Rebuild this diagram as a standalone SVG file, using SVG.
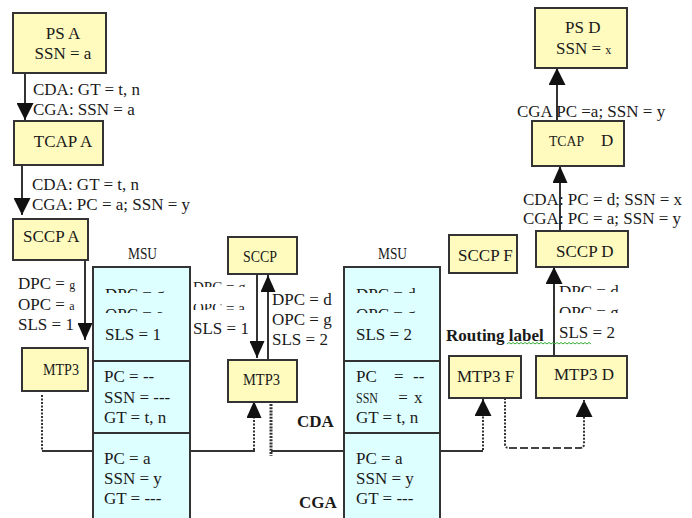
<svg xmlns="http://www.w3.org/2000/svg" width="692" height="518" viewBox="0 0 692 518">
<style>
.box{fill:#FFFBBF;stroke:#333;stroke-width:2}
.msu{fill:#DDFFFF;stroke:#333;stroke-width:2}
.t{font-family:'Liberation Serif','Times New Roman','DejaVu Serif',serif;font-size:17px;fill:#1a1a1a}
.s{font-size:12px}
.b{font-weight:bold}
.m{text-anchor:middle}
.ln{stroke:#333;stroke-width:2;fill:none}
.dot{stroke:#333;stroke-width:2;stroke-dasharray:2 1.5;fill:none}
.dot2{stroke:#333;stroke-width:3;stroke-dasharray:2 1.2;fill:none}
.dash{stroke:#444;stroke-width:2;stroke-dasharray:8 3;fill:none}
</style>
<defs>
<marker id="ah" viewBox="0 0 17 17" refX="17" refY="8.5" markerWidth="17" markerHeight="17" markerUnits="userSpaceOnUse" orient="auto"><path d="M0,0 L17,8.5 L0,17 z" fill="#111"/></marker>
<marker id="ahs" viewBox="0 0 17 15" refX="17" refY="7.5" markerWidth="17" markerHeight="15" markerUnits="userSpaceOnUse" orient="auto"><path d="M0,0 L17,7.5 L0,15 z" fill="#111"/></marker>
<clipPath id="cut">
<rect x="100" y="285" width="85" height="8"/>
<rect x="100" y="305" width="85" height="8"/>
<rect x="350" y="285" width="85" height="8"/>
<rect x="350" y="305" width="85" height="8"/>
<rect x="555" y="284" width="80" height="8"/>
<rect x="555" y="305" width="80" height="8"/>
<rect x="190" y="280" width="66" height="7"/>
<rect x="190" y="304" width="66" height="6"/>
</clipPath>
</defs>

<g id="connectors">
<path class="ln" d="M25,73 L25,120" marker-end="url(#ah)"/>
<path class="ln" d="M22,165 L22,215" marker-end="url(#ah)"/>
<path class="ln" d="M85,260 L85,340" marker-end="url(#ahs)"/>
<path class="ln" d="M257,274 L257,358" marker-end="url(#ahs)"/>
<path class="ln" d="M268,360 L268,275" marker-end="url(#ahs)"/>
<path class="dot" d="M42,395 L42,450"/>
<path class="ln" d="M42,451 L255,451"/>
<path class="dot" d="M254,450 L254,401" marker-end="url(#ahs)"/>
<path class="dot2" d="M271,404 L271,456"/>
<path class="ln" d="M271,451 L483,451"/>
<path class="dot" d="M483,450 L483,399" marker-end="url(#ah)"/>
<path class="dot" d="M505,398 L505,444 Q505,448 509,448"/>
<path class="dash" d="M509,448 L580,448"/>
<path class="dot" d="M580,448 Q584,448 584,444 L584,400" marker-end="url(#ah)"/>
<path class="ln" d="M554,356 L554,267" marker-end="url(#ah)"/>
<path class="ln" d="M560,231 L560,166" marker-end="url(#ahs)"/>
<path class="ln" d="M557,121 L557,68" marker-end="url(#ah)"/>
</g>

<g id="labels" class="t">
<text x="33" y="95">CDA: GT = t, n</text>
<text x="33" y="115">CGA: SSN = a</text>
<text x="32" y="190">CDA: GT = t, n</text>
<text x="32" y="210">CGA: PC = a; SSN = y</text>
<text x="18" y="289">DPC = <tspan class="s">g</tspan></text>
<text x="18" y="310">OPC = <tspan class="s">a</tspan></text>
<text x="18" y="330">SLS = 1</text>
<text x="193" y="292" font-size="15" clip-path="url(#cut)">DPC = g</text>
<text x="193" y="313" font-size="15" clip-path="url(#cut)">OPC = a</text>
<text x="193" y="334">SLS = 1</text>
<text x="272" y="305">DPC = d</text>
<text x="272" y="325">OPC = g</text>
<text x="272" y="345">SLS = 2</text>
<text x="297" y="427" class="b">CDA</text>
<text x="299" y="508" class="b">CGA</text>
<text x="446" y="341" class="b">Routing label</text>
<path d="M507,344 l2,-1.5 l2,1.5 l2,-1.5 l2,1.5 l2,-1.5 l2,1.5 l2,-1.5 l2,1.5 l2,-1.5 l2,1.5 l2,-1.5 l2,1.5 l2,-1.5 l2,1.5 l2,-1.5 l2,1.5 l2,-1.5 l2,1.5 l2,-1.5 l2,1.5 l2,-1.5 l2,1.5 l2,-1.5 l2,1.5 l2,-1.5 l2,1.5 l2,-1.5 l2,1.5 l2,-1.5 l2,1.5 l2,-1.5 l2,1.5 l2,-1.5 l2,1.5 l2,-1.5 l2,1.5 l2,-1.5 l2,1.5 l2,-1.5 l2,1.5 l2,-1.5 l2,1.5" fill="none" stroke="#3a3" stroke-width="1"/>
<text x="559" y="297" clip-path="url(#cut)">DPC = d</text>
<text x="559" y="318" clip-path="url(#cut)">OPC = g</text>
<text x="559" y="338">SLS = 2</text>
<text x="523" y="205">CDA: PC = d; SSN = x</text>
<text x="523" y="224">CGA: PC = a; SSN = y</text>
<text x="517" y="117">CGA PC =a; SSN = y</text>
</g>

<g id="ps-a"><rect class="box" x="13" y="13" width="93" height="60"/>
<text class="t m" x="63" y="39">PS A</text><text class="t m" x="63" y="59">SSN = a</text></g>
<g id="tcap-a"><rect class="box" x="14" y="121" width="89" height="44"/>
<text class="t m" x="63" y="147">TCAP A</text></g>
<g id="sccp-a"><rect class="box" x="13" y="219" width="75" height="41"/>
<text class="t" x="23" y="242">SCCP A</text></g>
<g id="mtp3-a"><rect class="box" x="22" y="348" width="66" height="43"/>
<text class="t" x="43" y="375" font-size="15" textLength="36" lengthAdjust="spacingAndGlyphs">MTP3</text></g>

<g id="msu-1">
<text class="t" x="128" y="259" font-size="15" textLength="29" lengthAdjust="spacingAndGlyphs">MSU</text>
<rect class="msu" x="93" y="267" width="97" height="260"/>
<path class="ln" d="M93,361 L190,361 M93,433 L190,433"/>
<text class="t" x="105" y="300" clip-path="url(#cut)">DPC = g</text>
<text class="t" x="105" y="320" clip-path="url(#cut)">OPC = a</text>
<text class="t" x="105" y="340">SLS = 1</text>
<text class="t" x="104" y="382">PC = --</text>
<text class="t" x="104" y="403">SSN = ---</text>
<text class="t" x="104" y="423">GT = t, n</text>
<text class="t" x="104" y="464">PC = a</text>
<text class="t" x="104" y="484">SSN = y</text>
<text class="t" x="104" y="504">GT = ---</text>
</g>

<g id="sccp-g"><rect class="box" x="228" y="237" width="69" height="37"/>
<text class="t" x="243" y="262" font-size="16" textLength="34" lengthAdjust="spacingAndGlyphs">SCCP</text></g>
<g id="mtp3-g"><rect class="box" x="228" y="360" width="69" height="42"/>
<text class="t" x="243" y="385" font-size="16" textLength="37" lengthAdjust="spacingAndGlyphs">MTP3</text></g>

<g id="msu-2">
<text class="t" x="378" y="259" font-size="15" textLength="29" lengthAdjust="spacingAndGlyphs">MSU</text>
<rect class="msu" x="344" y="267" width="96" height="260"/>
<path class="ln" d="M344,361 L440,361 M344,433 L440,433"/>
<text class="t" x="356" y="300" clip-path="url(#cut)">DPC = d</text>
<text class="t" x="356" y="320" clip-path="url(#cut)">OPC = g</text>
<text class="t" x="356" y="340">SLS = 2</text>
<text class="t" y="382"><tspan x="356">PC </tspan><tspan x="394">= </tspan><tspan x="413">--</tspan></text>
<text class="t" y="403"><tspan x="356" font-size="15" textLength="22" lengthAdjust="spacingAndGlyphs">SSN</tspan><tspan x="394"> = </tspan><tspan x="414">x</tspan></text>
<text class="t" x="356" y="423">GT = t, n</text>
<text class="t" x="356" y="464">PC = a</text>
<text class="t" x="356" y="484">SSN = y</text>
<text class="t" x="356" y="504">GT = ---</text>
</g>

<g id="sccp-f"><rect class="box" x="449" y="235" width="68" height="38"/>
<text class="t" x="458" y="261">SCCP F</text></g>
<g id="mtp3-f"><rect class="box" x="449" y="356" width="72" height="42"/>
<text class="t" x="457" y="382">MTP3 F</text></g>
<g id="sccp-d"><rect class="box" x="536" y="231" width="92" height="36"/>
<text class="t" x="556" y="257">SCCP D</text></g>
<g id="mtp3-d"><rect class="box" x="536" y="356" width="91" height="42"/>
<text class="t" x="554" y="380">MTP3 D</text></g>
<g id="tcap-d"><rect class="box" x="532" y="121" width="92" height="45"/>
<text class="t" y="146"><tspan x="549" font-size="15" textLength="35" lengthAdjust="spacingAndGlyphs">TCAP</tspan><tspan x="601">D</tspan></text></g>
<g id="ps-d"><rect class="box" x="535" y="8" width="92" height="60"/>
<text class="t" x="565" y="33">PS D</text>
<text class="t" x="556" y="54">SSN = <tspan class="s">x</tspan></text></g>
</svg>
